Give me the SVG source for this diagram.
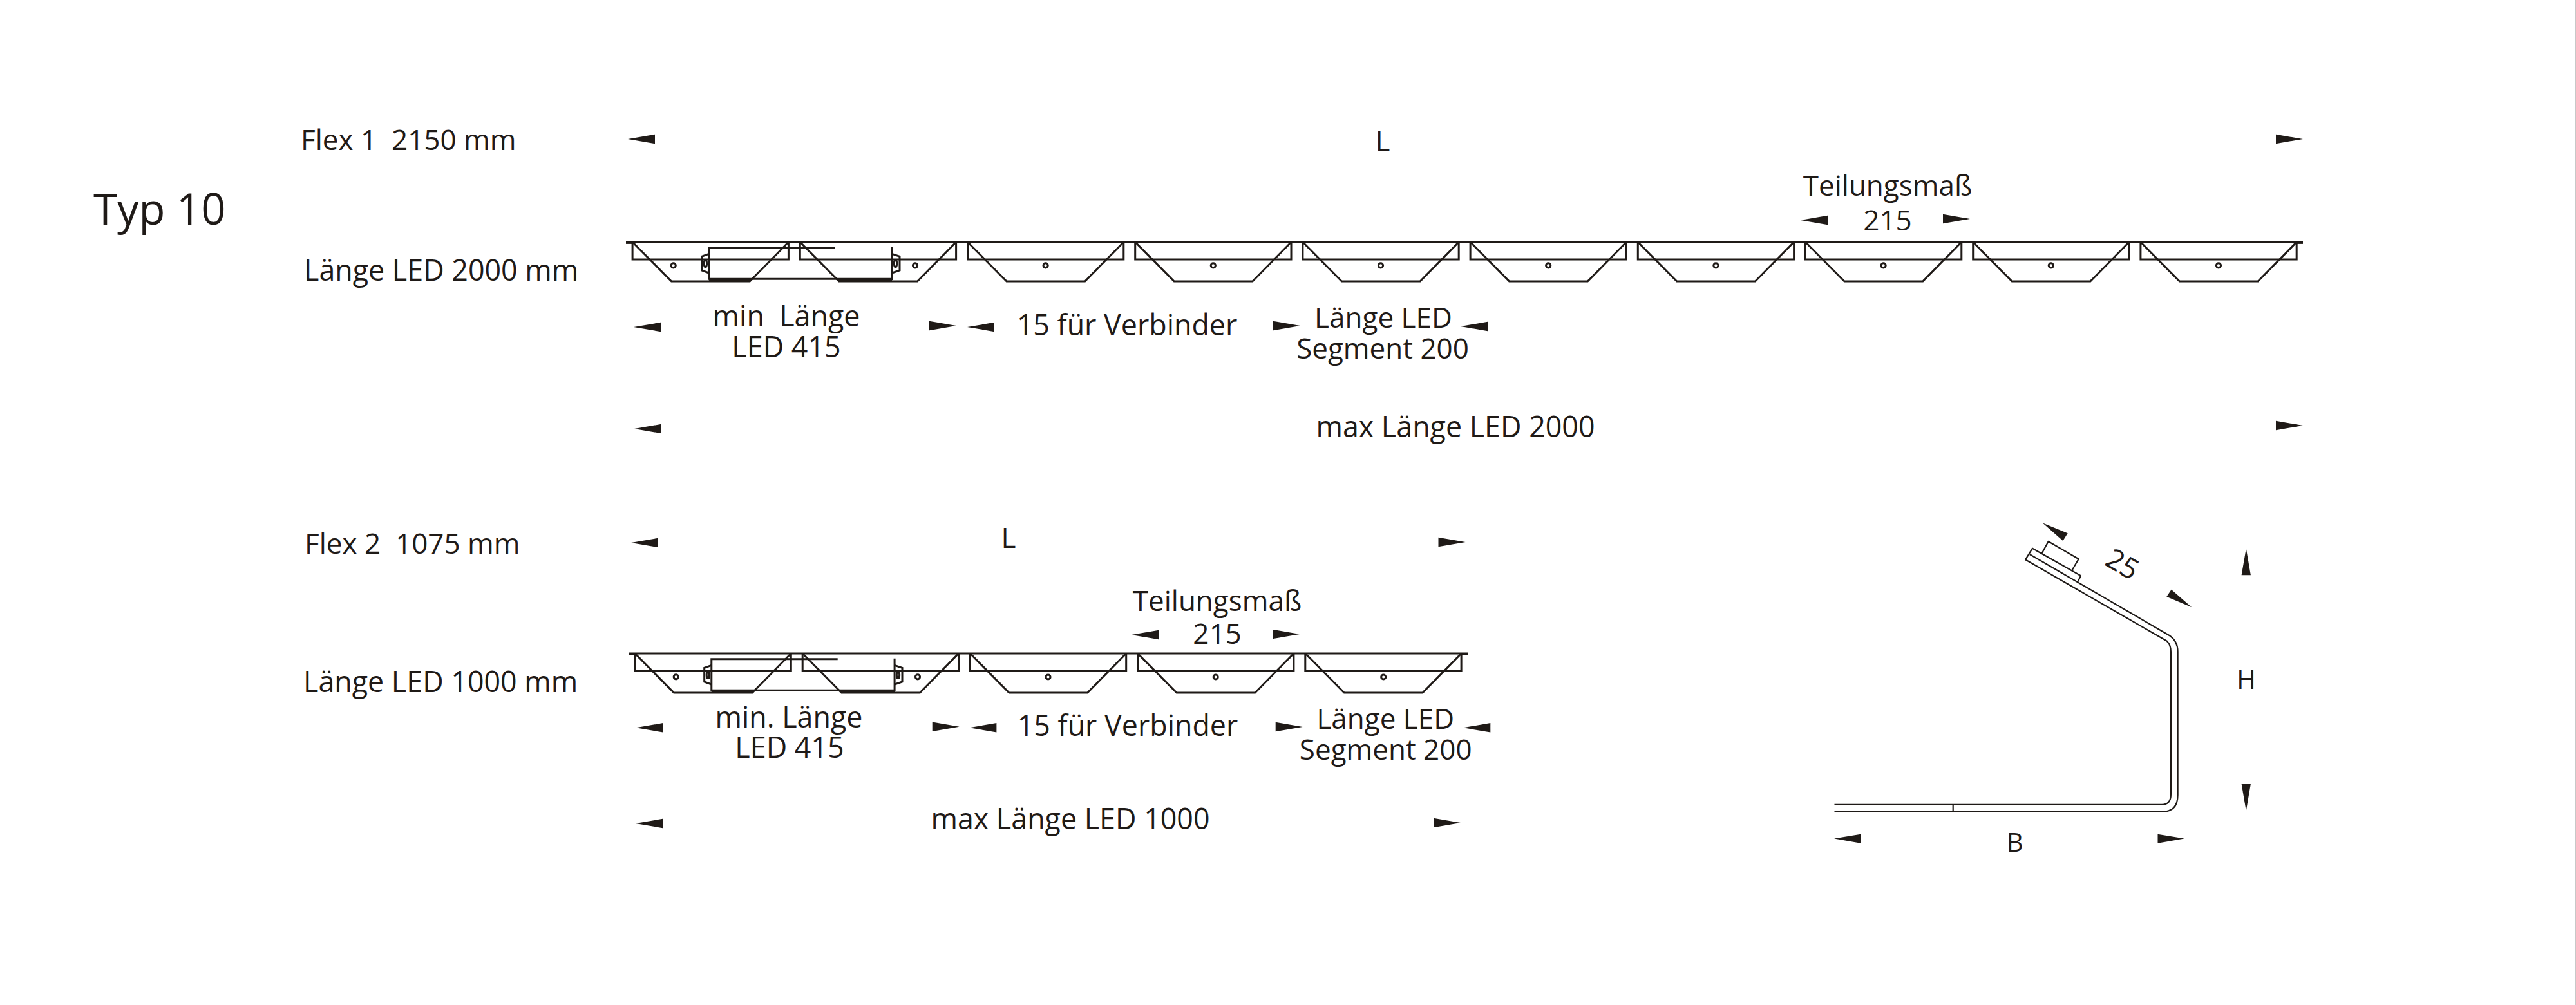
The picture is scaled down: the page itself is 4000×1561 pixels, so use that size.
<svg xmlns="http://www.w3.org/2000/svg" width="4000" height="1561" viewBox="0 0 4000 1561">
<style>
text{font-family:"Open Sans","Noto Sans",sans-serif;font-size:44px;fill:#1f1a17}
text.w{font-size:44.8px}
.m{text-anchor:middle}
.l{fill:none;stroke:#1f1a17;stroke-width:3;stroke-linejoin:miter}
.t{fill:none;stroke:#1f1a17;stroke-width:2.2;stroke-linejoin:round}
.a{fill:#1f1a17}
</style>
<defs>
<g id="unit">
<path class="l" d="M0 0V27H242.3V0"/>
<path class="l" d="M0 0L60.5 61H182.2L242.3 0"/>
</g>
<circle id="hole" class="l" r="3.6"/>
<path id="al" class="a" d="M0 0L42 -7.2V7.2Z"/>
<path id="ar" class="a" d="M0 0L-42 -7.2V7.2Z"/>
<g id="driver">
<path class="l" d="M1296.7 384.7H1100.8V434.7M1100.8 433.3H1385.1M1385.1 383.7V435"/>
<path class="l" stroke-width="5" d="M1100.8 435.5H1164.3M1302 435.5H1385.1"/>
<path class="l" d="M1100.8 394.3L1089.7 398.3V420L1100.8 424M1385.1 394.3L1397 398.3V420L1385.1 424"/>
<ellipse class="l" cx="1095.4" cy="409.3" rx="2.2" ry="5.5"/>
<ellipse class="l" cx="1390.5" cy="409.3" rx="2.2" ry="5.5"/>
<use href="#hole" x="1045.7" y="412.3"/>
<use href="#hole" x="1421" y="412.3"/>
</g>
</defs>
<rect width="4000" height="1561" fill="#fff"/>
<path d="M3999 0V1561" stroke="#c8c8c8" stroke-width="2"/>

<g id="labels-left">
<text x="145" y="349" style="font-size:67px">Typ 10</text>
<text x="467" y="233" xml:space="preserve">Flex 1  2150 mm</text>
<text class="w" x="472" y="436">Länge LED 2000 mm</text>
<text x="473" y="860" xml:space="preserve">Flex 2  1075 mm</text>
<text class="w" x="471" y="1075">Länge LED 1000 mm</text>
</g>

<g id="row-1">
<g id="row-1-strip">
<path class="l" d="M972 376H3576" stroke-width="3.4"/>
<path class="l" d="M972 377.4H982" stroke-width="5"/>
<path class="l" d="M3566 377.4H3576" stroke-width="5"/>
<use href="#unit" x="982.1" y="376"/>
<use href="#unit" x="1242.3" y="376"/>
<use href="#unit" x="1502.5" y="376"/>
<use href="#unit" x="1762.7" y="376"/>
<use href="#unit" x="2022.9" y="376"/>
<use href="#unit" x="2283.1" y="376"/>
<use href="#unit" x="2543.3" y="376"/>
<use href="#unit" x="2803.5" y="376"/>
<use href="#unit" x="3063.7" y="376"/>
<use href="#unit" x="3323.9" y="376"/>
<use href="#driver"/>
<use href="#hole" x="1623.6" y="412.3"/>
<use href="#hole" x="1883.8" y="412.3"/>
<use href="#hole" x="2144" y="412.3"/>
<use href="#hole" x="2404.2" y="412.3"/>
<use href="#hole" x="2664.4" y="412.3"/>
<use href="#hole" x="2924.6" y="412.3"/>
<use href="#hole" x="3184.8" y="412.3"/>
<use href="#hole" x="3445" y="412.3"/>
</g>
<g id="row-1-arrows">
<use href="#al" x="975" y="216"/><use href="#ar" x="3576" y="216"/>
<use href="#al" x="2796" y="342"/><use href="#ar" x="3059" y="340"/>
<use href="#al" x="984" y="508"/><use href="#ar" x="1485" y="506"/>
<use href="#al" x="1502" y="508"/><use href="#ar" x="2019" y="506"/>
<use href="#al" x="2268" y="507"/>
<use href="#al" x="985" y="666"/><use href="#ar" x="3576" y="661"/>
</g>
<g id="row-1-text">
<text class="m" x="2147" y="235">L</text>
<text class="m" x="2931" y="304">Teilungsmaß<tspan x="2931" y="358">215</tspan></text>
<text class="m w" x="1221" y="507" xml:space="preserve">min  Länge<tspan x="1221" y="555">LED 415</tspan></text>
<text class="m w" x="1750" y="521">15 für Verbinder</text>
<text class="m" x="2148" y="509">Länge LED<tspan x="2147" y="557">Segment 200</tspan></text>
<text class="m w" x="2260" y="679">max Länge LED 2000</text>
</g>
</g>

<g id="row-2">
<g id="row-2-strip">
<path class="l" d="M976 1015H2280" stroke-width="3.4"/>
<path class="l" d="M976 1016.4H986" stroke-width="5"/>
<path class="l" d="M2270 1016.4H2280" stroke-width="5"/>
<use href="#unit" x="986" y="1015"/>
<use href="#unit" x="1246.2" y="1015"/>
<use href="#unit" x="1506.4" y="1015"/>
<use href="#unit" x="1766.6" y="1015"/>
<use href="#unit" x="2026.8" y="1015"/>
<use href="#driver" transform="translate(4 639)"/>
<use href="#hole" x="1627.5" y="1051.5"/>
<use href="#hole" x="1887.7" y="1051.5"/>
<use href="#hole" x="2148.2" y="1051.5"/>
</g>
<g id="row-2-arrows">
<use href="#al" x="980" y="843"/><use href="#ar" x="2275.5" y="842"/>
<use href="#al" x="1757" y="986"/><use href="#ar" x="2018" y="985"/>
<use href="#al" x="987.5" y="1130.3"/><use href="#ar" x="1489.7" y="1128.7"/>
<use href="#al" x="1505.4" y="1130.3"/><use href="#ar" x="2022.7" y="1129"/>
<use href="#al" x="2272.3" y="1130.3"/>
<use href="#al" x="987" y="1279"/><use href="#ar" x="2268" y="1278"/>
</g>
<g id="row-2-text">
<text class="m" x="1566" y="851">L</text>
<text class="m" x="1890" y="949">Teilungsmaß<tspan x="1890" y="1000">215</tspan></text>
<text class="m w" x="1225" y="1130">min. Länge<tspan x="1226" y="1177">LED 415</tspan></text>
<text class="m w" x="1751" y="1143">15 für Verbinder</text>
<text class="m" x="2151.3" y="1131.7">Länge LED<tspan x="2151.7" y="1180">Segment 200</tspan></text>
<text class="m w" x="1662" y="1288">max Länge LED 1000</text>
</g>
</g>

<g id="profile">
<path class="t" d="M2848.5 1261H3357Q3381.6 1261 3381.6 1235V1012Q3381.6 996 3368.9 987.2L3151.7 861"/>
<path class="t" d="M2848.5 1249.8H3357Q3370.9 1249.8 3370.9 1234V1012Q3370.9 1002 3364.8 995.7L3145 869.3"/>
<path class="t" d="M3032.7 1249.8V1261"/>
<path class="t" d="M3145 869.3L3156 851.7L3231 894.3L3226.7 903.3"/>
<path class="t" d="M3170.7 859.3L3180.7 841L3227.7 868.3L3217.3 886"/>
<g id="profile-arrows">
<path class="a" d="M3171.7 812.3L3210.7 828.3L3203.3 840Z"/>
<path class="a" d="M3403.3 943.3L3371.7 915.7L3364.3 926.7Z"/>
<path class="a" d="M3487.8 852.1L3494.9 893.2H3480.6Z"/>
<path class="a" d="M3487.8 1259.5L3494.9 1217.7H3480.6Z"/>
<path class="a" d="M2848 1302.4L2889.3 1295.7V1309.8Z"/>
<path class="a" d="M3391.8 1302.4L3350.5 1295.7V1309.8Z"/>
</g>
<text class="m" transform="translate(3288 889.4) rotate(30)">25</text>
<text class="m" x="3488" y="1070" style="font-size:40px">H</text>
<text class="m" x="3128.6" y="1323" style="font-size:40px">B</text>
</g>
</svg>
